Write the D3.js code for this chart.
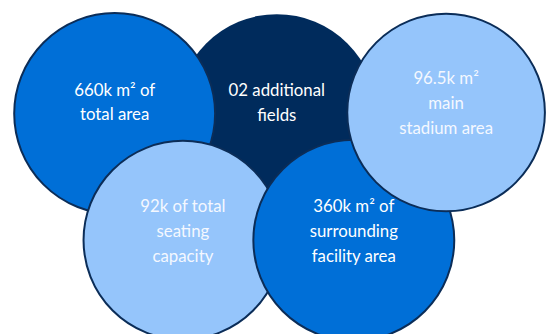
<!DOCTYPE html>
<html>
<head>
<meta charset="utf-8">
<script src="https://cdn.jsdelivr.net/npm/d3@7"></script>
<style>
  html, body { margin: 0; padding: 0; background: #fff; }
  svg { display: block; }
</style>
</head>
<body>
<svg id="chart"></svg>
<script>
// text shown in each bubble, one entry per line ("²" kept as real text)
const labels = [
  ["02 additional", "fields"],
  ["660k m² of", "total area"],
  ["92k of total", "seating", "capacity"],
  ["360k m² of", "surrounding", "facility area"],
  ["96.5k m²", "main", "stadium area"]
];
const tone = ["dark", "mid", "light", "mid", "light"];
// bubble centres in layout units (0..100 horizontally, 0..60 vertically)
const cxUnits = [50.7, 21, 33.5, 64.8, 81.7];
const cyUnits = [20.9, 20.8, 44.0, 44.0, 20.6];
const rUnits = [18.3, 18.4, 18.2, 18.4, 18.1];

const width = 546, height = 334;
const svg = d3.select("#chart").attr("width", width).attr("height", height);

const x = d3.scaleLinear().domain([0, 100]).range([0, width]);
const y = d3.scaleLinear().domain([0, 60]).range([0, 60 * width / 100]);
const r = d3.scaleLinear().domain([0, 100]).range([0, width]);

const fill = d3.scaleOrdinal()
  .domain(["dark", "mid", "light"])
  .range(["#002b5c", "#006fd7", "#95c5fb"]);

const nodes = labels.map((lines, i) => ({
  lines, tone: tone[i], cx: x(cxUnits[i]), cy: y(cyUnits[i]), r: r(rUnits[i])
}));

const g = svg.selectAll("g.bubble")
  .data(nodes)
  .join("g")
  .attr("class", "bubble");

g.append("circle")
  .attr("cx", d => d.cx)
  .attr("cy", d => d.cy)
  .attr("r", d => d.r)
  .attr("fill", d => fill(d.tone))
  .attr("stroke", d => d.tone == "dark" ? "none" : "#0b2d58")
  .attr("stroke-width", 2);

const lineH = 24.8;
g.append("text")
  .attr("text-anchor", "middle")
  .attr("font-family", "Lato, 'Open Sans', sans-serif")
  .attr("font-size", 16.8)
  .attr("fill", d => d.tone == "light" ? "#f4f8ff" : "#ffffff")
  .selectAll("tspan")
  .data(d => d.lines.map((t, j) => ({t, j, d})))
  .join("tspan")
  .attr("x", o => o.d.cx)
  .attr("y", o => {
    const top = o.d.lines.length == 3 ? o.d.cy - 34 : o.d.cy - 24;
    return top + o.j * lineH + 6;
  })
  .text(o => o.t);
</script>
</body>
</html>
